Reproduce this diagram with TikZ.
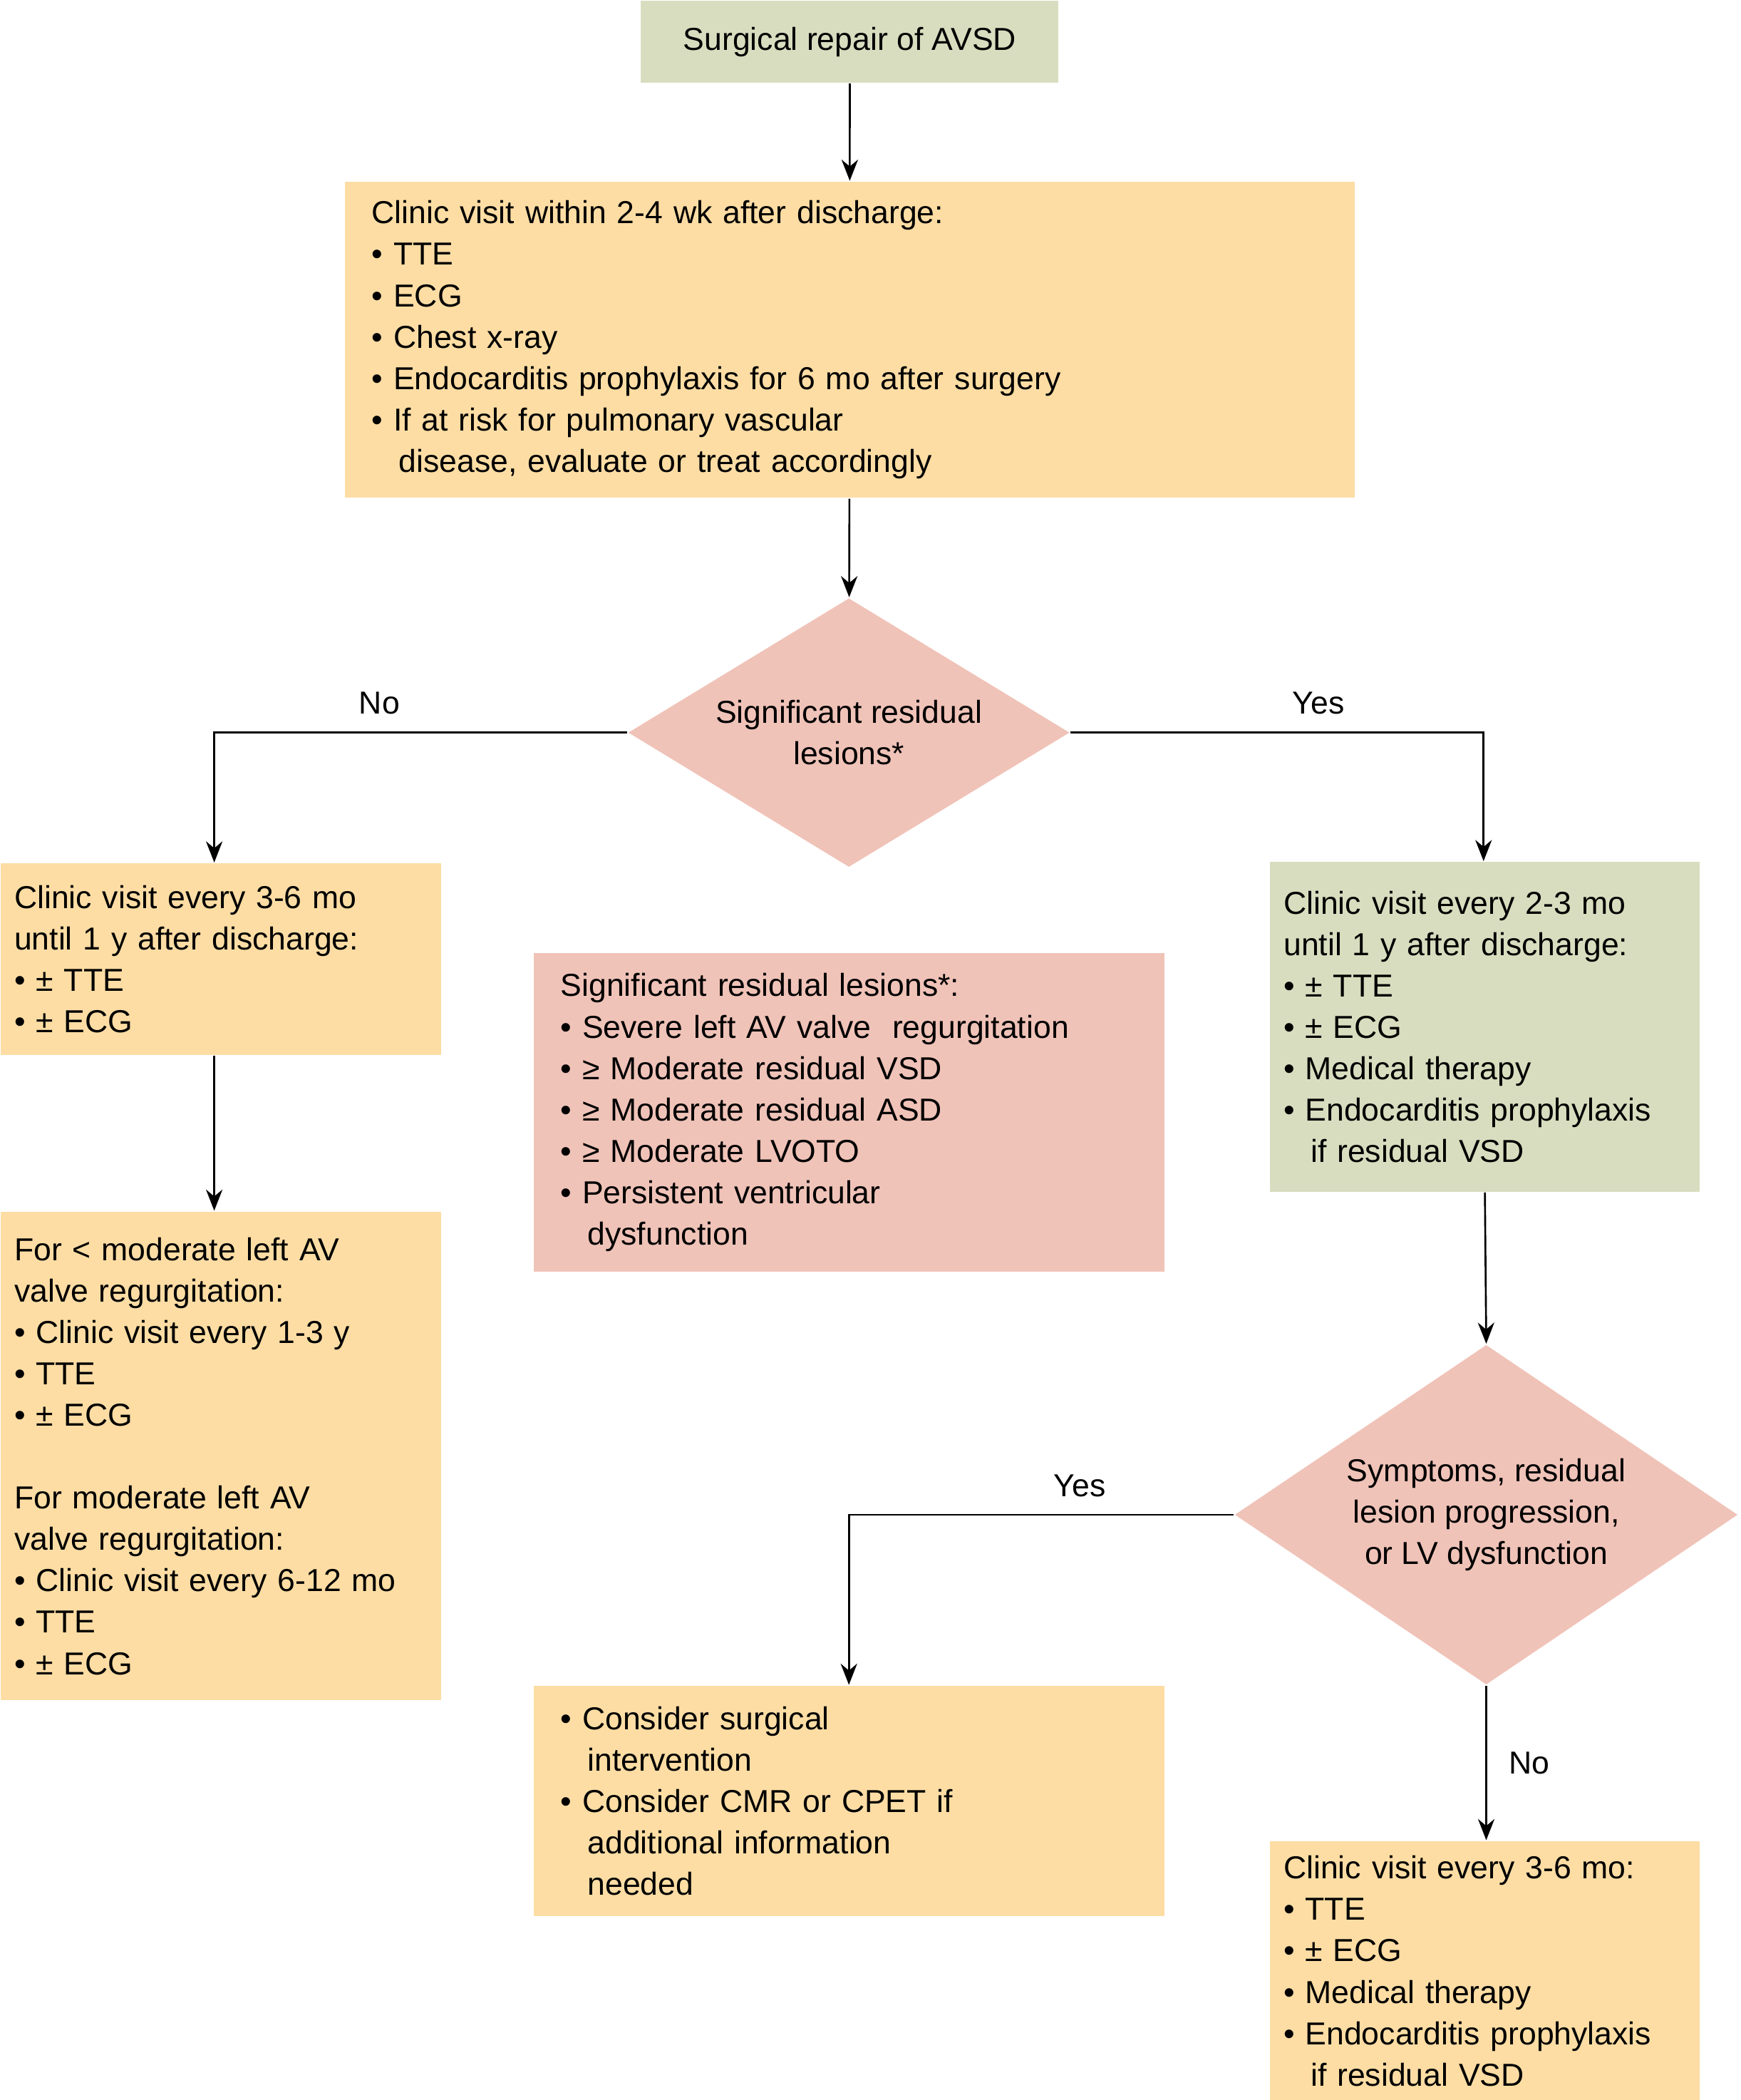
\documentclass[tikz,border=0pt]{standalone}
\usepackage{fontspec}
\setmainfont{Liberation Sans}
\usetikzlibrary{shapes.geometric,arrows.meta}
\definecolor{boxorange}{HTML}{FDDDA4}
\definecolor{boxgreen}{HTML}{D9DDBF}
\definecolor{boxpink}{HTML}{F0C3B8}
\newcommand{\bul}{\textbullet\ }
\newcommand{\ind}{\hspace*{0.85em}}
\begin{document}
\begin{tikzpicture}[x=0.02cm,y=-0.02cm,>={Stealth[length=9pt,width=7pt]},thick,
  font=\fontsize{13.5pt}{17.6pt}\selectfont,
  box/.style={rectangle,fill=boxorange,align=left,inner xsep=0.4cm,inner ysep=0pt,anchor=north west},
  dia/.style={diamond,fill=boxpink,align=center,inner sep=0pt}]

  \useasboundingbox (0,0) rectangle (1300,1568);

  \node[box,fill=boxgreen,align=center,minimum width=6.24cm,minimum height=1.22cm] (surg) at (478,0) {Surgical repair of AVSD};
  \node[box,minimum width=15.08cm,minimum height=4.72cm,text width=14.28cm] (visit) at (257,135) {Clinic visit within 2-4 wk after discharge:\\ \bul TTE\\ \bul ECG\\ \bul Chest x-ray\\ \bul Endocarditis prophylaxis for 6 mo after surgery\\ \bul If at risk for pulmonary vascular\\ \ind disease, evaluate or treat accordingly};
  \node[dia,minimum width=6.6cm,minimum height=4.02cm,aspect=1.64] (res) at (634,547) {Significant residual\\ lesions*};

  \node[box,minimum width=6.58cm,minimum height=2.86cm,text width=6.18cm,inner xsep=0.2cm] (no1) at (0,644) {Clinic visit every 3-6 mo\\ until 1 y after discharge:\\ \bul ± TTE\\ \bul ± ECG};
  \node[box,fill=boxgreen,minimum width=6.42cm,minimum height=4.92cm,text width=6.02cm,inner xsep=0.2cm] (yes1) at (948,643) {Clinic visit every 2-3 mo\\ until 1 y after discharge:\\ \bul ± TTE\\ \bul ± ECG\\ \bul Medical therapy\\ \bul Endocarditis prophylaxis\\ \ind if residual VSD};
  \node[box,fill=boxpink,minimum width=9.42cm,minimum height=4.76cm,text width=8.62cm] (les) at (398,711) {Significant residual lesions*:\\ \bul Severe left AV valve\ \ regurgitation\\ \bul ≥ Moderate residual VSD\\ \bul ≥ Moderate residual ASD\\ \bul ≥ Moderate LVOTO\\ \bul Persistent ventricular\\ \ind dysfunction};

  \node[box,minimum width=6.58cm,minimum height=7.3cm,text width=6.18cm,inner xsep=0.2cm] (avr) at (0,904) {For < moderate left AV\\ valve regurgitation:\\ \bul Clinic visit every 1-3 y\\ \bul TTE\\ \bul ± ECG\\[17.6pt] For moderate left AV\\ valve regurgitation:\\ \bul Clinic visit every 6-12 mo\\ \bul TTE\\ \bul ± ECG};

  \node[dia,minimum width=7.52cm,minimum height=5.08cm,aspect=1.48] (symp) at (1110,1131) {Symptoms, residual\\ lesion progression,\\ or LV dysfunction};
  \node[box,minimum width=9.42cm,minimum height=3.44cm,text width=8.62cm] (surgint) at (398,1258) {\bul Consider surgical\\ \ind intervention\\ \bul Consider CMR or CPET if\\ \ind additional information\\ \ind needed};
  \node[box,minimum width=6.42cm,minimum height=3.88cm,text width=6.02cm,inner xsep=0.2cm] (no2) at (948,1374) {Clinic visit every 3-6 mo:\\ \bul TTE\\ \bul ± ECG\\ \bul Medical therapy\\ \bul Endocarditis prophylaxis\\ \ind if residual VSD};

  \draw[->] (surg) -- (visit);
  \draw[->] (visit) -- (res);
  \draw[->] (res.west) -| node[pos=0.3,above=4pt] {No} (no1.north -| 160,0);
  \draw[->] (res.east) -| node[pos=0.3,above=4pt] {Yes} (yes1.north -| 1108,0);
  \draw[->] (no1.south -| 160,0) -- (avr.north -| 160,0);
  \draw[->] (yes1.south -| 1109,0) -- (symp.north);
  \draw[->] (symp.west) -| node[pos=0.2,above=4pt] {Yes} (surgint.north -| 634,0);
  \draw[->] (symp.south) -- node[right=6pt] {No} (no2.north -| symp.south);
\end{tikzpicture}
\end{document}
